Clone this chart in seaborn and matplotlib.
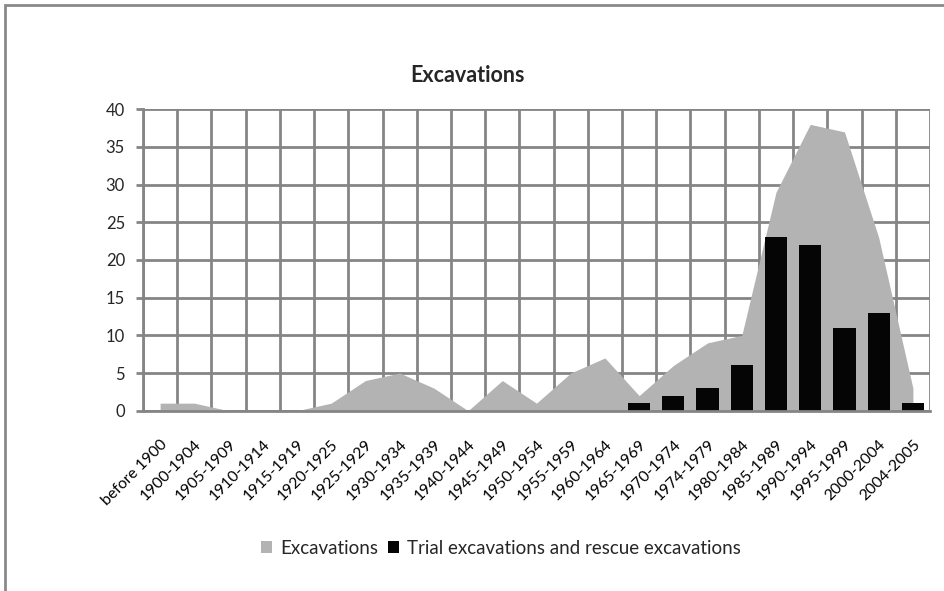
import matplotlib
matplotlib.use("Agg")
import matplotlib.pyplot as plt
from matplotlib.patches import Patch, Rectangle
from matplotlib.ticker import MultipleLocator, FixedLocator
import numpy as np
import pandas as pd
import seaborn as sns

periods = ["before 1900", "1900-1904", "1905-1909", "1910-1914", "1915-1919",
           "1920-1925", "1925-1929", "1930-1934", "1935-1939", "1940-1944",
           "1945-1949", "1950-1954", "1955-1959", "1960-1964", "1965-1969",
           "1970-1974", "1974-1979", "1980-1984", "1985-1989", "1990-1994",
           "1995-1999", "2000-2004", "2004-2005"]
excavations = [1, 1, 0, 0, 0, 1, 4, 5, 3, 0, 4, 1, 5, 7, 2, 6, 9, 10, 29, 38, 37, 23, 3]
trial_rescue = [0, 0, 0, 0, 0, 0, 0, 0, 0, 0, 0, 0, 0, 0, 1, 2, 3, 6, 23, 22, 11, 13, 1]

df = pd.DataFrame({"period": periods, "excavations": excavations,
                   "trial_rescue": trial_rescue})

sns.set_style("white")
plt.rcParams["font.family"] = ["Lato", "DejaVu Sans"]

GRID = "#858585"
AREA = "#b3b3b3"
BAR = "#050505"

fig = plt.figure(figsize=(9.45, 5.91), dpi=100)
ax = fig.add_axes([143 / 945, 1 - 410.7 / 591, (930 - 143) / 945, (410.7 - 109.3) / 591])

# excavations as a filled area through the category centres
xpos = np.arange(len(periods))
ax.fill_between(xpos, df["excavations"], 0, color=AREA, linewidth=0, zorder=2)

# trial and rescue excavations as bars
sns.barplot(data=df, x="period", y="trial_rescue", color=BAR, width=0.65,
            saturation=1, ax=ax, zorder=3, edgecolor="none")

ax.set_xlim(-0.5, len(periods) - 0.5)
ax.set_ylim(0, 40)
ax.yaxis.set_major_locator(MultipleLocator(5))
ax.xaxis.set_major_locator(FixedLocator(xpos))
ax.xaxis.set_minor_locator(FixedLocator(np.arange(len(periods) + 1) - 0.5))
ax.set_xticklabels(periods, rotation=45, ha="right", rotation_mode="anchor",
                   fontsize=11.3, color="black")
ax.tick_params(axis="x", which="major", length=0, pad=19)
ax.tick_params(axis="x", which="minor", length=6, width=2, color=GRID, direction="out")
ax.tick_params(axis="y", length=5, width=2, color=GRID, labelsize=12, pad=8,
               direction="out", left=True)
ax.set_axisbelow(True)
ax.grid(True, which="major", axis="y", color=GRID, linewidth=2)
ax.grid(True, which="minor", axis="x", color=GRID, linewidth=2)
ax.grid(False, which="major", axis="x")
for side in ["left", "bottom"]:
    ax.spines[side].set_color(GRID)
    ax.spines[side].set_linewidth(2)
    ax.spines[side].set_zorder(4)
for side in ["top", "right"]:
    ax.spines[side].set_visible(False)
ax.set_xlabel("")
ax.set_ylabel("")

fig.text(468 / 945, 1 - 76 / 591, "Excavations", ha="center", va="center",
         fontsize=15.5, fontweight="bold")

handles = [Patch(facecolor=AREA, edgecolor="none", label="Excavations"),
           Patch(facecolor=BAR, edgecolor="none", label="Trial excavations and rescue excavations")]
fig.legend(handles=handles, loc="center", bbox_to_anchor=(501 / 945, 1 - 548 / 591),
           ncol=2, frameon=False, fontsize=13.5, handlelength=0.6, handleheight=0.6,
           handletextpad=0.45, columnspacing=0.5)

# chart border
fig.patches.append(Rectangle((5 / 945, -0.05), 1.1, 1 - 5 / 591 + 0.05,
                             transform=fig.transFigure, fill=False,
                             edgecolor="#8a8a8a", linewidth=2, zorder=10))

fig.savefig("out.png", dpi=100)
